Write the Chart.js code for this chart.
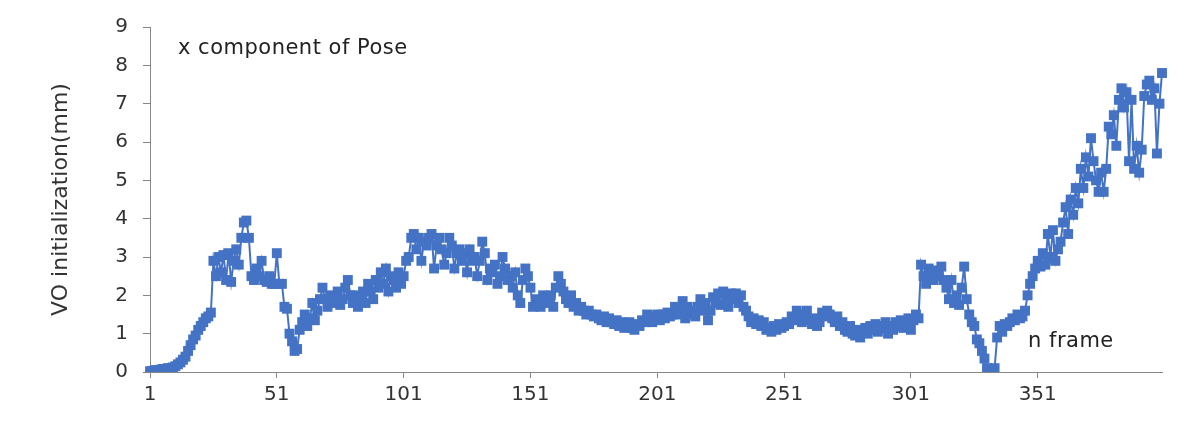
<!DOCTYPE html>
<html>
<head>
<meta charset="utf-8">
<script src="https://cdn.jsdelivr.net/npm/chart.js@4/dist/chart.umd.min.js"></script>
<style>
  html, body { margin: 0; padding: 0; background: #fff; }
  #wrap { width: 1196px; height: 438px; }
</style>
</head>
<body>
<div id="wrap"><canvas id="c" width="1196" height="438"></canvas></div>
<script>
// frame numbers 1..400
var frames = [];
for (var i = 1; i <= 400; i++) frames.push(String(i));

// x component of pose (mm)
var poseX = [
  0.02,0.03,0.05,0.04,0.06,0.08,0.07,0.1,0.1,0.12,
  0.15,0.2,0.25,0.32,0.4,0.55,0.7,0.85,0.95,1.1,
  1.2,1.3,1.4,1.45,1.55,2.9,2.5,3.0,2.6,3.05,
  2.4,3.1,2.35,2.9,3.2,2.8,3.5,3.9,3.95,3.5,
  2.5,2.4,2.7,2.5,2.9,2.4,2.35,2.5,2.3,2.3,
  3.1,2.3,2.3,1.7,1.65,1.0,0.8,0.55,0.6,1.1,
  1.3,1.5,1.2,1.4,1.8,1.35,1.6,1.9,2.2,1.9,
  1.7,2.0,1.8,1.9,2.1,1.75,1.9,2.2,2.4,2.0,
  1.8,2.0,1.7,1.9,2.1,1.8,2.3,2.1,1.9,2.4,
  2.2,2.6,2.3,2.7,2.1,2.5,2.4,2.2,2.6,2.3,
  2.5,2.9,3.0,3.5,3.6,3.2,3.5,2.9,3.4,3.3,
  3.5,3.6,2.7,3.3,3.5,3.2,2.8,3.1,3.5,3.3,
  2.7,3.1,3.2,2.9,3.1,2.6,3.2,2.9,3.0,2.5,
  2.9,3.4,3.1,2.4,2.7,2.6,2.8,2.3,2.5,3.0,
  2.7,2.4,2.5,2.2,2.6,2.0,1.8,2.4,2.7,2.5,
  2.2,1.7,1.9,1.8,1.7,2.0,1.9,1.8,2.0,1.7,
  2.2,2.5,2.3,2.1,1.9,1.8,2.0,1.7,1.8,1.6,
  1.7,1.6,1.5,1.6,1.5,1.45,1.5,1.4,1.35,1.45,
  1.3,1.4,1.3,1.25,1.35,1.2,1.3,1.15,1.2,1.3,
  1.15,1.1,1.25,1.2,1.35,1.3,1.5,1.4,1.3,1.45,
  1.5,1.35,1.5,1.4,1.55,1.45,1.5,1.7,1.5,1.6,
  1.85,1.4,1.7,1.5,1.6,1.45,1.7,1.9,1.6,1.8,
  1.35,1.6,1.95,1.8,2.05,1.75,2.1,1.9,1.7,2.05,
  1.9,2.05,1.8,2.0,1.7,1.6,1.45,1.3,1.4,1.25,
  1.35,1.2,1.3,1.1,1.15,1.05,1.2,1.1,1.25,1.15,
  1.2,1.3,1.25,1.45,1.35,1.6,1.5,1.3,1.45,1.6,
  1.35,1.25,1.4,1.2,1.3,1.55,1.45,1.6,1.5,1.4,
  1.3,1.45,1.2,1.3,1.1,1.05,1.2,1.0,0.95,1.1,
  0.9,1.05,1.15,1.0,1.2,1.1,1.25,1.05,1.2,1.15,
  1.3,1.0,1.2,1.1,1.3,1.2,1.35,1.15,1.25,1.4,
  1.1,1.35,1.5,1.4,2.8,2.5,2.3,2.7,2.55,2.4,
  2.65,2.5,2.75,2.4,2.2,1.9,2.4,1.8,2.0,1.75,
  2.2,2.75,1.9,1.5,1.3,1.2,0.85,0.75,0.55,0.35,
  0.1,0.05,0.08,0.1,0.9,1.2,1.05,1.25,1.2,1.3,
  1.4,1.35,1.5,1.4,1.45,1.6,2.0,2.3,2.5,2.7,
  2.9,2.75,3.1,2.8,3.6,3.0,3.7,2.9,3.2,3.4,
  3.9,4.3,3.6,4.5,4.1,4.8,4.4,5.3,4.8,5.6,
  5.1,6.1,5.5,5.0,4.7,5.2,4.7,5.3,6.4,6.2,
  6.7,5.9,7.1,7.4,6.9,7.3,5.5,7.1,5.3,5.9,
  5.2,5.8,7.2,7.5,7.6,7.1,7.4,5.7,7.0,7.8
];

var xTickLabels = ['1','51','101','151','201','251','301','351'];
var yTicks = [0,1,2,3,4,5,6,7,8,9];

var blue = 'rgb(68, 114, 196)';
var axisGrey = '#868686';
var textColor = '#333';
var fontFamily = '"DejaVu Sans", sans-serif';

// the two loose labels that sit inside the plot
var notes = {
  id: 'notes',
  afterDraw: function(chart) {
    var ctx = chart.ctx;
    ctx.save();
    ctx.fillStyle = '#222';
    ctx.font = '21px ' + fontFamily;
    ctx.letterSpacing = '0.5px';
    ctx.textBaseline = 'alphabetic';
    ctx.fillText('x component of Pose', 178, 54);
    ctx.fillText('n frame', 1028, 347);
    ctx.restore();
  }
};

var ctx = document.getElementById('c').getContext('2d');
var chart = new Chart(ctx, {
  type: 'line',
  data: {
    labels: frames,
    datasets: [{
      label: 'x component of Pose',
      data: poseX,
      borderColor: blue,
      backgroundColor: blue,
      borderWidth: 2,
      tension: 0,
      pointStyle: 'rect',
      pointRadius: 7,
      pointBorderWidth: 0,
      pointBackgroundColor: blue
    }]
  },
  options: {
    responsive: false,
    animation: false,
    layout: { padding: { left: 0, right: 34, top: 19, bottom: 0 } },
    plugins: {
      legend: { display: false },
      tooltip: { enabled: false }
    },
    scales: {
      x: {
        offset: false,
        grid: { display: true, drawOnChartArea: false, drawTicks: true, tickLength: 6, color: axisGrey },
        border: { display: true, color: axisGrey, width: 1 },
        ticks: {
          autoSkip: false,
          maxRotation: 0,
          padding: 5,
          color: textColor,
          font: { family: fontFamily, size: 20 },
          callback: function(val, idx) {
            var lbl = this.getLabelForValue(val);
            return xTickLabels.indexOf(lbl) >= 0 ? lbl : null;
          }
        },
        afterFit: function(scale) { scale.height = 438 - 372; }
      },
      y: {
        min: 0,
        max: 9,
        afterBuildTicks: function(scale) {
          scale.ticks = yTicks.map(function(v) { return { value: v }; });
        },
        grid: { display: true, drawOnChartArea: false, drawTicks: true, tickLength: 7, color: axisGrey },
        border: { display: true, color: axisGrey, width: 1 },
        ticks: {
          padding: 15,
          color: textColor,
          font: { family: fontFamily, size: 20 }
        },
        title: {
          display: true,
          text: 'VO initialization(mm)',
          color: textColor,
          font: { family: fontFamily, size: 22 },
          padding: { top: 48, bottom: 0 }
        },
        afterFit: function(scale) { scale.width = 150; }
      }
    }
  },
  plugins: [notes]
});
</script>
</body>
</html>
